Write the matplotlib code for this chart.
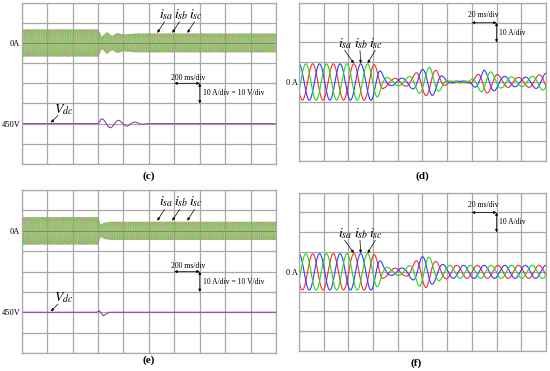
import matplotlib
matplotlib.use('Agg')
import matplotlib.pyplot as plt
import numpy as np

plt.rcParams['font.family'] = ['Liberation Serif', 'DejaVu Serif']
plt.rcParams['mathtext.fontset'] = 'stix'

# --- values (time in divisions, amplitude in divisions) ---
# (c) / (e): 200 ms/div, 60 Hz grid currents -> period in divisions
period_ce = 1.0 / 60 / 0.2
t_env_c = [0, 3.0, 3.15, 3.35, 3.55, 3.75, 4.0, 4.5, 10]
amp_env_c = [0.68, 0.68, 0.3, 0.55, 0.35, 0.5, 0.42, 0.47, 0.47]
t_env_e = [0, 3.0, 3.1, 3.25, 3.5, 10]
amp_env_e = [0.68, 0.68, 0.3, 0.4, 0.45, 0.45]
# dc-link voltage disturbance
t_vdc_c = [0, 3.0, 3.1, 3.5, 4.0, 4.5, 5.0, 10]
amp_vdc_c = [0, 0, 0.24, 0.2, 0.14, 0.07, 0, 0]
period_vdc_c = 0.65
t_vdc_e = [0, 2.95, 3.05, 3.2, 3.45, 10]
dev_vdc_e = [0, 0, 0.08, -0.17, 0, 0]

# (d) / (f): 20 ms/div
period_df = 1.0 / 60 / 0.02
t_env_d = [0, 3.0, 3.2, 3.45, 3.7, 4.3, 4.6, 4.9, 5.3, 5.6, 5.9, 6.05, 6.9,
           7.2, 7.5, 7.8, 8.2, 9.0, 9.5, 10]
amp_env_d = [0.92, 0.92, 0.75, 0.3, 0.18, 0.2, 0.35, 0.6, 0.75, 0.55, 0.2,
             0.05, 0.05, 0.35, 0.6, 0.5, 0.3, 0.22, 0.3, 0.45]
t_env_f = [0, 3.0, 3.2, 3.45, 3.7, 4.3, 4.6, 4.9, 5.2, 5.5, 5.8, 6.1, 10]
amp_env_f = [0.92, 0.92, 0.75, 0.3, 0.18, 0.2, 0.4, 0.75, 0.8, 0.55, 0.38,
             0.33, 0.33]

phase_labels = [r'$i_{sa}$', r'$i_{sb}$', r'$i_{sc}$']
phase_shift = [120, 0, -120]
colors_df = ['#ff2a2a', '#3a3aff', '#1fd81f']
colors_ce = ['#ee55cc', '#c8a050', '#33e033']
vdc_color = '#9a3fb0'
grid_color = '#a8a8a8'


def scope_axes(ax, ylabels):
    ax.set_xlim(0, 10)
    ax.set_ylim(0, 8)
    ax.set_xticks(range(11))
    ax.set_yticks(range(9))
    ax.set_xticklabels([])
    ax.set_yticklabels([ylabels.get(k, '') for k in range(9)], fontsize=6)
    ax.tick_params(length=0, pad=1)
    ax.grid(True, color=grid_color, lw=0.9)
    for s in ax.spines.values():
        s.set_color(grid_color)
        s.set_linewidth(0.9)


def arrow(ax, xy, xytext, both=False):
    ax.annotate('', xy=xy, xytext=xytext,
                arrowprops=dict(arrowstyle='<|-|>' if both else '-|>',
                                color='k', lw=0.5, mutation_scale=4,
                                shrinkA=0, shrinkB=0))


fig = plt.figure(figsize=(5.5, 3.71), dpi=100)

ax_c = fig.add_axes([0.0395, 0.558, 0.4625, 0.435])
ax_d = fig.add_axes([0.5436, 0.566, 0.449, 0.426])
ax_e = fig.add_axes([0.0395, 0.0485, 0.4625, 0.439])
ax_f = fig.add_axes([0.5436, 0.0539, 0.449, 0.4267])

# --- (c) and (e): long time scale, coarse scope sampling ---
t = np.linspace(0, 10, 1301)
tv = np.linspace(0, 10, 2000)
for ax, te, ae, name in [(ax_c, t_env_c, amp_env_c, 'c'), (ax_e, t_env_e, amp_env_e, 'e')]:
    scope_axes(ax, {6: '0A', 2: '450V'})
    env = np.interp(t, te, ae)
    for sh, col in zip(phase_shift, colors_ce):
        ax.plot(t, 6 + env * np.cos(2 * np.pi * t / period_ce + np.radians(sh)),
                color=col, lw=0.35, alpha=0.85)
    ax.axhline(6, color='#8a7a50', lw=0.7, alpha=0.7)
    if name == 'c':
        vdc_env = np.interp(tv, t_vdc_c, amp_vdc_c)
        ax.plot(tv, 2 + vdc_env * np.sin(2 * np.pi * (tv - 3.0) / period_vdc_c),
                color=vdc_color, lw=0.8)
    else:
        ax.plot(t_vdc_e, 2 + np.array(dev_vdc_e), color=vdc_color, lw=0.8)
    # phase labels
    for k, lab in enumerate(phase_labels):
        x0 = 5.33 + 0.59 * k
        ax.text(x0 + 0.08, 7.05, lab, fontsize=10, ha='left', va='bottom')
        arrow(ax, (x0, 6.5), (x0 + 0.28, 7.05))
    ax.text(1.25, 2.35, r'$V_{dc}$', fontsize=10, ha='left', va='bottom')
    arrow(ax, (1.15, 2.05), (1.42, 2.4))
    ax.text(5.85, 4.08, '200 ms/div', fontsize=5.5, ha='left', va='bottom')
    arrow(ax, (6.0, 4.0), (7.0, 4.0), both=True)
    arrow(ax, (7.0, 4.0), (7.0, 3.0), both=True)
    ax.text(7.12, 3.5, '10 A/div = 10 V/div', fontsize=5.5, ha='left', va='center')

# --- (d) and (f): short time scale ---
tt = np.linspace(0, 10, 4000)
for ax, te, ae in [(ax_d, t_env_d, amp_env_d), (ax_f, t_env_f, amp_env_f)]:
    scope_axes(ax, {4: '0 A'})
    env = np.interp(tt, te, ae)
    for sh, col in zip(phase_shift, colors_df):
        ax.plot(tt, 4 + env * np.cos(2 * np.pi * tt / period_df + np.radians(sh)),
                color=col, lw=0.8)
    peaks = [2.22, 2.5, 2.78]
    for k, lab in enumerate(phase_labels):
        ax.text(1.6 + 0.62 * k, 5.55, lab, fontsize=10, ha='left', va='bottom')
        arrow(ax, (peaks[k], 4.95), (1.85 + 0.62 * k, 5.6))
    ax.text(6.85, 7.2, '20 ms/div', fontsize=5.5, ha='left', va='bottom')
    arrow(ax, (7.0, 7.0), (8.0, 7.0), both=True)
    arrow(ax, (8.0, 7.0), (8.0, 6.0), both=True)
    ax.text(8.1, 6.5, '10 A/div', fontsize=5.5, ha='left', va='center')

for x, y, s in [(149, 176, '(c)'), (422, 176, '(d)'), (149, 360, '(e)'), (416, 363, '(f)')]:
    fig.text(x / 550, 1 - y / 371, s, fontsize=8, fontweight='bold',
             ha='center', va='center')

fig.savefig('out.png', dpi=100)
